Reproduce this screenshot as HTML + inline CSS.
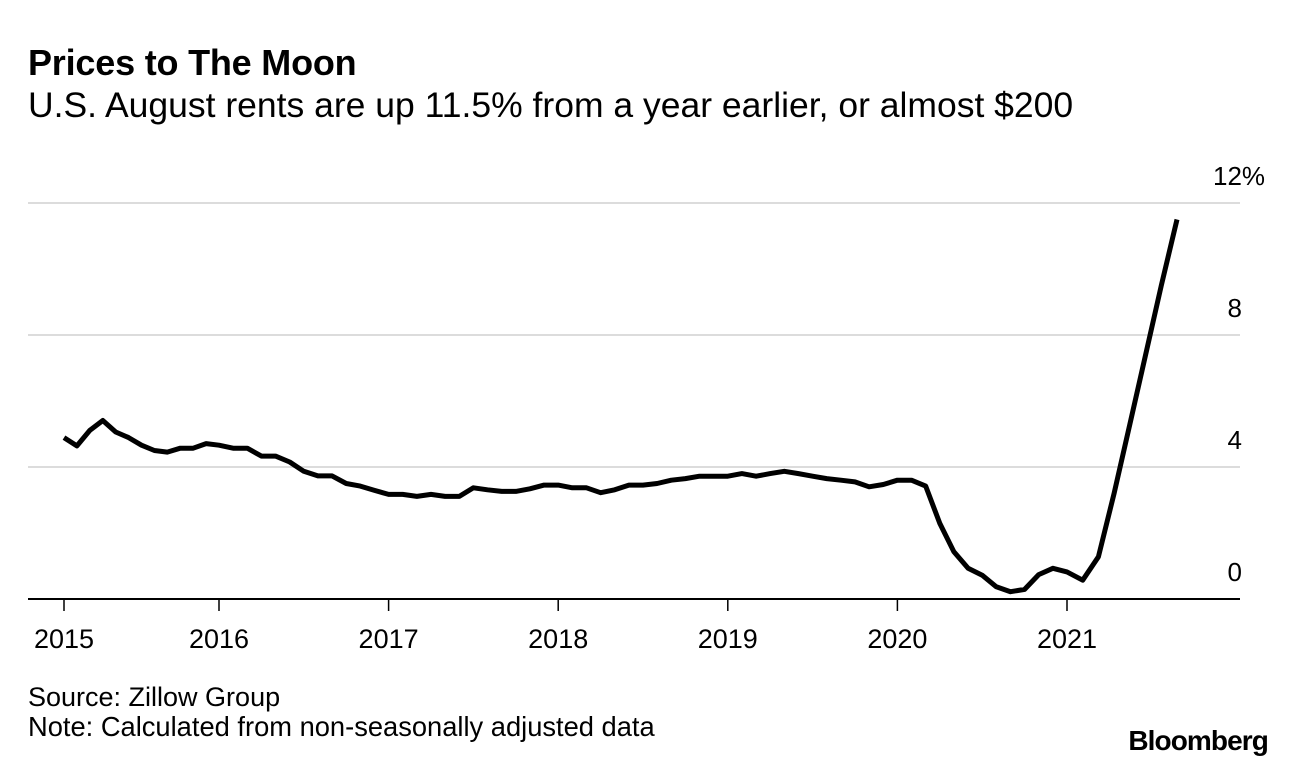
<!DOCTYPE html>
<html><head><meta charset="utf-8">
<style>
body{margin:0;background:#fff;width:1296px;height:766px;overflow:hidden;font-family:"Liberation Sans",Arial,sans-serif;}
svg{position:absolute;left:0;top:0}
</style></head>
<body>
<svg width="1296" height="766" id="chart">
<text x="28" y="75" font-size="36" font-weight="bold" letter-spacing="-0.2" fill="#000">Prices to The Moon</text>
<text x="28" y="117" font-size="35.5" fill="#000">U.S. August rents are up 11.5% from a year earlier, or almost $200</text>
<g id="grid"></g>
<g id="xaxis"></g>
<g id="series"></g>
<text x="28" y="706" font-size="27" fill="#000">Source: Zillow Group</text>
<text x="28" y="736" font-size="27.3" fill="#000">Note: Calculated from non-seasonally adjusted data</text>
<text x="1268" y="750" font-size="28" font-weight="bold" text-anchor="end" letter-spacing="-0.9" fill="#000">Bloomberg</text>
</svg>
<script>
const yTicks = [0, 4, 8, 12];
const yTickLabels = ["0", "4", "8", "12%"];
const xTickLabels = ["2015","2016","2017","2018","2019","2020","2021"];
const xTickIndex = [0, 12, 24, 36, 48, 60, 72];
const rentGrowth = [
4.89,4.64,5.11,5.41,5.06,4.89,4.66,4.5,4.45,4.57,
4.57,4.71,4.66,4.57,4.57,4.33,4.33,4.15,3.87,3.73,
3.73,3.5,3.42,3.29,3.17,3.17,3.11,3.17,3.11,3.11,
3.37,3.31,3.26,3.26,3.34,3.45,3.45,3.37,3.37,3.22,
3.31,3.45,3.45,3.5,3.6,3.65,3.72,3.72,3.72,3.8,
3.72,3.8,3.87,3.8,3.72,3.65,3.6,3.55,3.4,3.47,
3.6,3.6,3.42,2.29,1.43,0.93,0.72,0.37,0.22,0.29,
0.74,0.93,0.82,0.57,1.28,3.2,5.3,7.4,9.5,11.5];

const NS="http://www.w3.org/2000/svg";
function y(v){return 599 - v*33;}
function x(i){
  if(i<=12) return 64 + i*(219-64)/12;
  if(i<=72) return 219 + (i-12)*(1067-219)/60;
  return 1067 + (i-72)*(1177-1067)/7;
}
function mk(tag,attrs,parent){const e=document.createElementNS(NS,tag);for(const k in attrs)e.setAttribute(k,attrs[k]);parent.appendChild(e);return e;}
const grid=document.getElementById('grid');
yTicks.forEach((v,k)=>{
  if(v>0){
    const l=mk('line',{x1:28,x2:1240,y1:y(v),y2:y(v),stroke:'#dcdcdc','stroke-width':2},grid);
    
    
  }
  const t=mk('text',{x:1242,y:y(v)-18,'font-size':26,'text-anchor':'end',fill:'#000'},grid);
  t.textContent=yTickLabels[k];
  if(v===12){t.setAttribute('text-anchor','start');t.setAttribute('x',1213);}
  
  
});
const xa=document.getElementById('xaxis');
const base=mk('line',{x1:28,x2:1240,y1:599,y2:599,stroke:'#000','stroke-width':2},xa);


xTickLabels.forEach((lab,k)=>{
  const px=x(xTickIndex[k]);
  const tk=mk('line',{x1:px,x2:px,y1:599,y2:611,stroke:'#000','stroke-width':1.5},xa);
  
  
  const t=mk('text',{x:px,y:648,'font-size':27,'text-anchor':'middle',fill:'#000'},xa);
  t.textContent=lab;
  
  
});
const s=document.getElementById('series');
const d=rentGrowth.map((v,i)=>(i?'L':'M')+x(i).toFixed(1)+','+y(v).toFixed(1)).join(' ');
const p=mk('path',{d:d,fill:'none',stroke:'#000','stroke-width':5,'stroke-linejoin':'round','stroke-linecap':'butt'},s);


</script>
</body></html>
